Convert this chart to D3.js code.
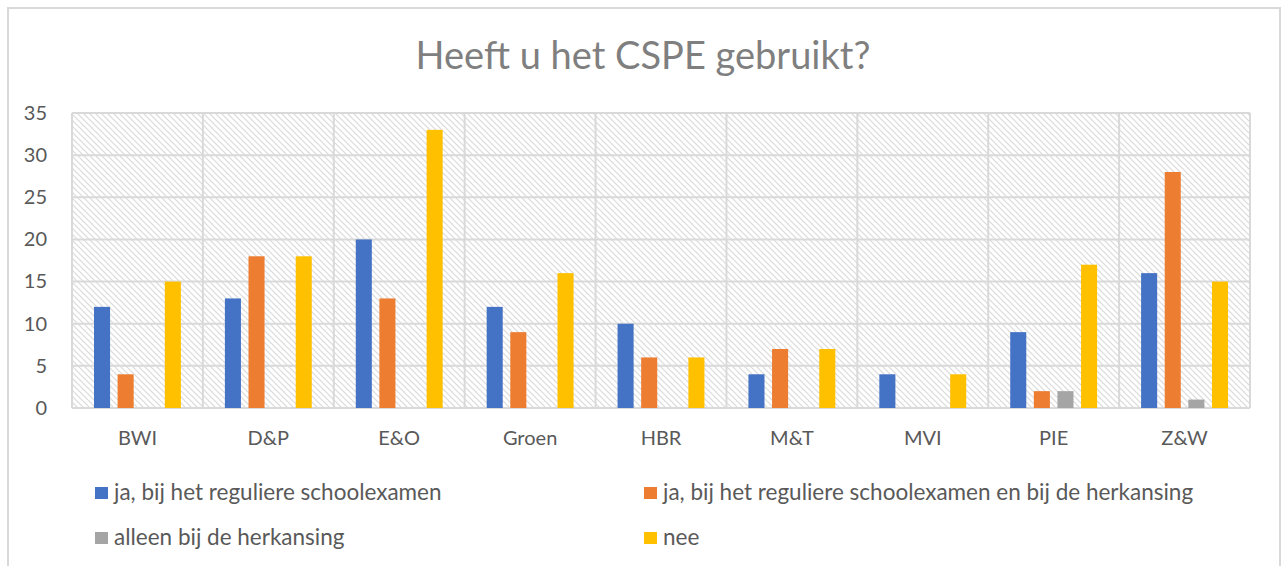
<!DOCTYPE html>
<html>
<head>
<meta charset="utf-8">
<script src="https://cdn.jsdelivr.net/npm/d3@7"></script>
<style>
  html, body { margin: 0; padding: 0; background: #fff; }
  svg { display: block; }
  text { font-family: Lato, "Open Sans", sans-serif; }
</style>
</head>
<body>
<svg id="chart" width="1282" height="566"></svg>
<script>
const title = "Heeft u het CSPE gebruikt?";
const categories = ["BWI", "D&P", "E&O", "Groen", "HBR", "M&T", "MVI", "PIE", "Z&W"];
const seriesNames = [
  "ja, bij het reguliere schoolexamen",
  "ja, bij het reguliere schoolexamen en bij de herkansing",
  "alleen bij de herkansing",
  "nee"
];
const regulier = [12, 13, 20, 12, 10, 4, 4, 9, 16];
const regulierEnHerkansing = [4, 18, 13, 9, 6, 7, 0, 2, 28];
const alleenHerkansing = [0, 0, 0, 0, 0, 0, 0, 2, 1];
const nee = [15, 18, 33, 16, 6, 7, 4, 17, 15];
const yTicks = [0, 5, 10, 15, 20, 25, 30, 35];
const colors = ["#4472C4", "#ED7D31", "#A5A5A5", "#FFC000"];

const seriesValues = [regulier, regulierEnHerkansing, alleenHerkansing, nee];

const svg = d3.select("#chart");
const W = 1282, H = 566;
const plot = { left: 72, right: 1250, top: 113, bottom: 408 };

// outer chart border (left, top, right)
svg.append("path")
  .attr("d", `M8,${H} L8,8 L1280,8 L1280,${H}`)
  .attr("fill", "none")
  .attr("stroke", "#d9d9d9")
  .attr("stroke-width", 2);

// hatch pattern
const defs = svg.append("defs");
const pat = defs.append("pattern")
  .attr("id", "hatch")
  .attr("patternUnits", "userSpaceOnUse")
  .attr("width", 6).attr("height", 6);
pat.append("rect").attr("width", 6).attr("height", 6).attr("fill", "#fff");
pat.append("path")
  .attr("d", "M-1,-1 L7,7 M-4,2 L2,8 M4,-2 L8,2")
  .attr("stroke", "#dadada")
  .attr("stroke-width", 1.2);

const x = d3.scaleBand().domain(categories).range([plot.left, plot.right]).paddingInner(0).paddingOuter(0);
const y = d3.scaleLinear().domain([0, 35]).range([plot.bottom, plot.top]);
const groupPad = 22;
const xs = d3.scaleBand().domain(d3.range(seriesValues.length))
  .range([groupPad, x.bandwidth() - groupPad]).paddingInner(0.32).paddingOuter(0);

// plot background
svg.append("rect")
  .attr("x", plot.left).attr("y", plot.top)
  .attr("width", plot.right - plot.left).attr("height", plot.bottom - plot.top)
  .attr("fill", "url(#hatch)");

// horizontal gridlines
svg.append("g").selectAll("line").data(yTicks).join("line")
  .attr("x1", plot.left).attr("x2", plot.right)
  .attr("y1", d => y(d)).attr("y2", d => y(d))
  .attr("stroke", "#d9d9d9").attr("stroke-width", 2);

// vertical gridlines at category boundaries
const bounds = categories.map(c => x(c)).concat([x(categories[categories.length - 1]) + x.bandwidth()]);
svg.append("g").selectAll("line").data(bounds).join("line")
  .attr("x1", d => d).attr("x2", d => d)
  .attr("y1", plot.top).attr("y2", plot.bottom)
  .attr("stroke", "#d9d9d9").attr("stroke-width", 2);

// bars
seriesValues.forEach((vals, si) => {
  svg.append("g").selectAll("rect").data(vals).join("rect")
    .attr("x", (d, i) => x(categories[i]) + xs(si))
    .attr("width", xs.bandwidth())
    .attr("y", d => y(d))
    .attr("height", d => y(0) - y(d))
    .attr("fill", colors[si]);
});

// y axis labels
const yAxis = d3.axisLeft(y).tickValues(yTicks).tickSize(0).tickPadding(0);
const yg = svg.append("g").attr("transform", "translate(47,0)").call(yAxis);
yg.select(".domain").remove();
yg.selectAll("text").attr("fill", "#595959").style("font-size", "20px").style("font-family", "Lato");

// x axis labels
const xAxis = d3.axisBottom(x).tickSize(0).tickPadding(0);
const xg = svg.append("g").attr("transform", "translate(0,431)").call(xAxis);
xg.select(".domain").remove();
xg.selectAll("text").attr("fill", "#595959").style("font-size", "20px").style("font-family", "Lato");

// title
svg.append("text")
  .attr("x", 643).attr("y", 69)
  .attr("text-anchor", "middle")
  .attr("fill", "#7f7f7f")
  .style("font-size", "38px")
  .text(title);

// legend
const legendPos = [[95, 500], [644, 500], [95, 545], [644, 545]];
const lg = svg.append("g").selectAll("g").data(seriesNames).join("g")
  .attr("transform", (d, i) => `translate(${legendPos[i][0]},${legendPos[i][1]})`);
lg.append("rect").attr("x", 0).attr("y", -13).attr("width", 13).attr("height", 12)
  .attr("fill", (d, i) => colors[i]);
lg.append("text").attr("x", 19).attr("y", 0)
  .attr("fill", "#595959").style("font-size", "22.5px")
  .text(d => d);
</script>
</body>
</html>
